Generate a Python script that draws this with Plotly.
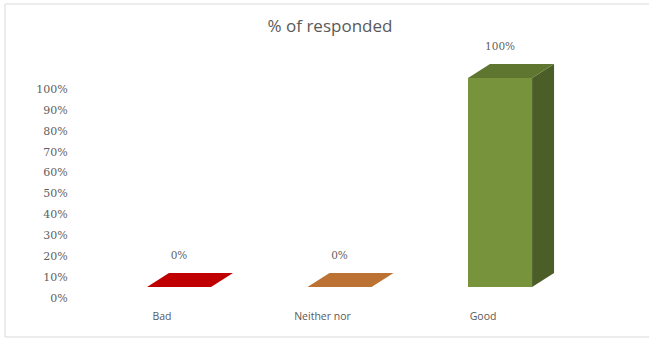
import plotly.graph_objects as go

# ---- data ----
categories = ["Bad", "Neither nor", "Good"]
values = [0, 0, 100]
value_labels = ["0%", "0%", "100%"]
tick_values = [0, 10, 20, 30, 40, 50, 60, 70, 80, 90, 100]
tick_labels = ["0%", "10%", "20%", "30%", "40%", "50%", "60%", "70%", "80%", "90%", "100%"]
title_text = "% of responded"

# ---- styling ----
front_colors = ["#C00000", "#BB7233", "#77933C"]
top_colors = ["#C00000", "#BB7233", "#5F7631"]
side_colors = ["#900000", "#8C5526", "#4B5E27"]

W, H = 649, 338
ML, MR, MT, MB = 75, 0, 40, 40
pw, ph = W - ML - MR, H - MT - MB
x_range = [-0.542, 3.034]
y_range = [0, 123.4]

shift = 0.106      # front face offset from category tick
bw = 0.399         # bar width
dx = 0.137         # depth (x)
dy = 6.7           # depth (y)
base0 = 5.26       # front face base
lab_off = 20.0     # data label offset

fig = go.Figure()

xpos = [i + shift for i in range(len(categories))]

# front faces
fig.add_trace(go.Bar(
    x=xpos, y=values, base=base0, width=bw,
    marker=dict(color=front_colors, line=dict(width=0)),
    hoverinfo="skip", showlegend=False))

for i, (xc, v) in enumerate(zip(xpos, values)):
    xl, xr = xc - bw / 2, xc + bw / 2
    top = base0 + v
    # side face
    if v > 0:
        fig.add_trace(go.Scatter(
            x=[xr, xr + dx, xr + dx, xr, xr],
            y=[base0, base0 + dy, top + dy, top, base0],
            mode="lines", fill="toself", fillcolor=side_colors[i],
            line=dict(width=0), hoverinfo="skip", showlegend=False))
    # top face
    fig.add_trace(go.Scatter(
        x=[xl, xr, xr + dx, xl + dx, xl],
        y=[top, top, top + dy, top + dy, top],
        mode="lines", fill="toself", fillcolor=top_colors[i],
        line=dict(width=0), hoverinfo="skip", showlegend=False))

# data labels
fig.add_trace(go.Scatter(
    x=xpos, y=[v + lab_off for v in values], mode="text",
    text=value_labels, textposition="middle center",
    textfont=dict(family="DejaVu Serif", size=10.5, color="#5F5F5F"),
    cliponaxis=False, hoverinfo="skip", showlegend=False))

# border (left/top/bottom; right edge is off-canvas)
def px_to_paper_x(px):
    return (px - ML) / pw

def px_to_paper_y(py):
    return (H - MB - py) / ph

fig.add_shape(type="rect", xref="paper", yref="paper",
              x0=px_to_paper_x(5), x1=px_to_paper_x(665),
              y0=px_to_paper_y(337), y1=px_to_paper_y(4),
              line=dict(color="#D9D9D9", width=1), fillcolor="rgba(0,0,0,0)",
              layer="below")

fig.update_layout(
    width=W, height=H,
    margin=dict(l=ML, r=MR, t=MT, b=MB),
    paper_bgcolor="white", plot_bgcolor="white",
    title=dict(text=title_text, x=(330 / W), xanchor="center",
               y=1 - 26 / H, yanchor="middle",
               font=dict(family="Open Sans", size=17, color="#595959")),
    xaxis=dict(range=x_range, tickvals=list(range(len(categories))),
               ticktext=categories, showgrid=False, zeroline=False,
               showline=False, ticks="outside", ticklen=8,
               tickcolor="rgba(0,0,0,0)",
               tickfont=dict(family="Open Sans", size=10.5, color="#595959")),
    yaxis=dict(range=y_range, tickvals=tick_values, ticktext=tick_labels,
               showgrid=False, zeroline=False, showline=False,
               ticks="outside", ticklen=4, tickcolor="rgba(0,0,0,0)",
               tickfont=dict(family="DejaVu Serif", size=11, color="#5F5F5F")),
    bargap=0,
)

fig.write_html("out.html")
